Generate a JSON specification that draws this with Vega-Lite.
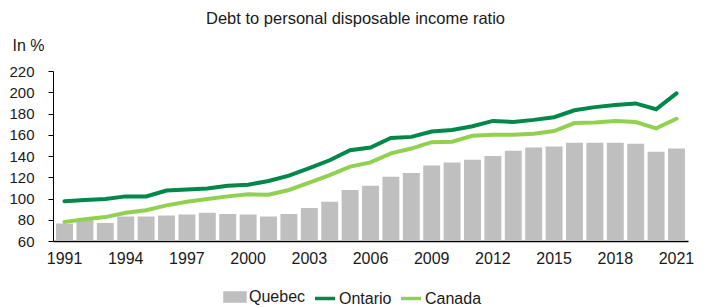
{
  "$schema": "https://vega.github.io/schema/vega-lite/v6.json",
  "width": 635,
  "height": 170,
  "autosize": {"type": "none"},
  "padding": {"left": 53, "top": 71, "right": 21, "bottom": 66},
  "background": "white",
  "config": {
    "font": "Liberation Sans",
    "view": {"stroke": null}
  },
  "title": {
    "text": "Debt to personal disposable income ratio",
    "fontSize": 16.5,
    "fontWeight": "normal",
    "color": "#1a1a1a",
    "anchor": "middle",
    "frame": "group",
    "dx": -15,
    "offset": 10
  },
  "data": {
    "values": [
      {"year": "1991", "series": "Quebec", "value": 76.5},
      {"year": "1992", "series": "Quebec", "value": 80},
      {"year": "1993", "series": "Quebec", "value": 77},
      {"year": "1994", "series": "Quebec", "value": 83},
      {"year": "1995", "series": "Quebec", "value": 83},
      {"year": "1996", "series": "Quebec", "value": 84},
      {"year": "1997", "series": "Quebec", "value": 85},
      {"year": "1998", "series": "Quebec", "value": 86.5},
      {"year": "1999", "series": "Quebec", "value": 85.5},
      {"year": "2000", "series": "Quebec", "value": 85},
      {"year": "2001", "series": "Quebec", "value": 83},
      {"year": "2002", "series": "Quebec", "value": 85.5},
      {"year": "2003", "series": "Quebec", "value": 91},
      {"year": "2004", "series": "Quebec", "value": 97},
      {"year": "2005", "series": "Quebec", "value": 108},
      {"year": "2006", "series": "Quebec", "value": 112},
      {"year": "2007", "series": "Quebec", "value": 120.5},
      {"year": "2008", "series": "Quebec", "value": 124},
      {"year": "2009", "series": "Quebec", "value": 131},
      {"year": "2010", "series": "Quebec", "value": 134},
      {"year": "2011", "series": "Quebec", "value": 136.5},
      {"year": "2012", "series": "Quebec", "value": 140},
      {"year": "2013", "series": "Quebec", "value": 145},
      {"year": "2014", "series": "Quebec", "value": 148},
      {"year": "2015", "series": "Quebec", "value": 149},
      {"year": "2016", "series": "Quebec", "value": 152.5},
      {"year": "2017", "series": "Quebec", "value": 152.5},
      {"year": "2018", "series": "Quebec", "value": 152.5},
      {"year": "2019", "series": "Quebec", "value": 151.5},
      {"year": "2020", "series": "Quebec", "value": 144},
      {"year": "2021", "series": "Quebec", "value": 147},
      {"year": "1991", "series": "Ontario", "value": 97.5},
      {"year": "1992", "series": "Ontario", "value": 98.5},
      {"year": "1993", "series": "Ontario", "value": 99.5},
      {"year": "1994", "series": "Ontario", "value": 102},
      {"year": "1995", "series": "Ontario", "value": 102},
      {"year": "1996", "series": "Ontario", "value": 107.5},
      {"year": "1997", "series": "Ontario", "value": 108.5},
      {"year": "1998", "series": "Ontario", "value": 109.5},
      {"year": "1999", "series": "Ontario", "value": 112},
      {"year": "2000", "series": "Ontario", "value": 113},
      {"year": "2001", "series": "Ontario", "value": 116.5},
      {"year": "2002", "series": "Ontario", "value": 121.5},
      {"year": "2003", "series": "Ontario", "value": 128.5},
      {"year": "2004", "series": "Ontario", "value": 136},
      {"year": "2005", "series": "Ontario", "value": 145.5},
      {"year": "2006", "series": "Ontario", "value": 148},
      {"year": "2007", "series": "Ontario", "value": 157},
      {"year": "2008", "series": "Ontario", "value": 158},
      {"year": "2009", "series": "Ontario", "value": 163},
      {"year": "2010", "series": "Ontario", "value": 164.5},
      {"year": "2011", "series": "Ontario", "value": 168},
      {"year": "2012", "series": "Ontario", "value": 173},
      {"year": "2013", "series": "Ontario", "value": 172},
      {"year": "2014", "series": "Ontario", "value": 174},
      {"year": "2015", "series": "Ontario", "value": 176.5},
      {"year": "2016", "series": "Ontario", "value": 183},
      {"year": "2017", "series": "Ontario", "value": 186},
      {"year": "2018", "series": "Ontario", "value": 188},
      {"year": "2019", "series": "Ontario", "value": 189.5},
      {"year": "2020", "series": "Ontario", "value": 184},
      {"year": "2021", "series": "Ontario", "value": 199},
      {"year": "1991", "series": "Canada", "value": 78},
      {"year": "1992", "series": "Canada", "value": 80.5},
      {"year": "1993", "series": "Canada", "value": 82.5},
      {"year": "1994", "series": "Canada", "value": 86.5},
      {"year": "1995", "series": "Canada", "value": 89},
      {"year": "1996", "series": "Canada", "value": 93.5},
      {"year": "1997", "series": "Canada", "value": 97},
      {"year": "1998", "series": "Canada", "value": 99.5},
      {"year": "1999", "series": "Canada", "value": 102},
      {"year": "2000", "series": "Canada", "value": 104},
      {"year": "2001", "series": "Canada", "value": 103.5},
      {"year": "2002", "series": "Canada", "value": 108},
      {"year": "2003", "series": "Canada", "value": 115},
      {"year": "2004", "series": "Canada", "value": 122},
      {"year": "2005", "series": "Canada", "value": 130},
      {"year": "2006", "series": "Canada", "value": 134},
      {"year": "2007", "series": "Canada", "value": 142.5},
      {"year": "2008", "series": "Canada", "value": 147},
      {"year": "2009", "series": "Canada", "value": 153},
      {"year": "2010", "series": "Canada", "value": 153.5},
      {"year": "2011", "series": "Canada", "value": 159},
      {"year": "2012", "series": "Canada", "value": 160},
      {"year": "2013", "series": "Canada", "value": 160},
      {"year": "2014", "series": "Canada", "value": 161},
      {"year": "2015", "series": "Canada", "value": 163.5},
      {"year": "2016", "series": "Canada", "value": 171},
      {"year": "2017", "series": "Canada", "value": 171.5},
      {"year": "2018", "series": "Canada", "value": 173},
      {"year": "2019", "series": "Canada", "value": 172},
      {"year": "2020", "series": "Canada", "value": 166},
      {"year": "2021", "series": "Canada", "value": 175}
    ]
  },
  "encoding": {
    "x": {
      "field": "year",
      "type": "ordinal",
      "scale": {"paddingInner": 0.17, "paddingOuter": 0.15},
      "axis": {
        "title": null,
        "labelAngle": 0,
        "labelFontSize": 16,
        "labelColor": "#1a1a1a",
        "labelPadding": 9,
        "ticks": false,
        "tickSize": 0,
        "domainColor": "#000000",
        "domainWidth": 1.5,
        "labelExpr": "(toNumber(datum.value) - 1991) % 3 === 0 ? datum.value : ''"
      }
    },
    "y": {
      "field": "value",
      "type": "quantitative",
      "scale": {"domain": [60, 220], "nice": false, "zero": false},
      "axis": {
        "title": "In %",
        "titleAngle": 0,
        "titleAlign": "left",
        "titleBaseline": "alphabetic",
        "titleX": -41,
        "titleY": -21,
        "titleFontSize": 16,
        "titleFontWeight": "normal",
        "titleColor": "#1a1a1a",
        "values": [60, 80, 100, 120, 140, 160, 180, 200, 220],
        "labelFontSize": 15,
        "labelColor": "#1a1a1a",
        "labelPadding": 14,
        "tickSize": 5,
        "tickColor": "#000000",
        "domainColor": "#000000",
        "grid": false
      }
    },
    "color": {
      "field": "series",
      "type": "nominal",
      "scale": {
        "domain": ["Quebec", "Ontario", "Canada"],
        "range": ["#bfbfbf", "#00884b", "#92d050"]
      },
      "legend": {
        "title": null,
        "orient": "none",
        "direction": "horizontal",
        "legendX": 170,
        "legendY": 214,
        "labelFontSize": 16,
        "labelColor": "#1a1a1a",
        "labelOffset": 2,
        "columnPadding": 2,
        "symbolSize": 400,
        "padding": 0,
        "encode": {
          "symbols": {
            "update": {
              "shape": {"signal": "datum.label === 'Quebec' ? 'M-1,-0.4H1V0.4H-1Z' : 'stroke'"},
              "fill": {"signal": "datum.label === 'Quebec' ? '#bfbfbf' : 'transparent'"},
              "stroke": {"signal": "datum.label === 'Quebec' ? 'transparent' : (datum.label === 'Ontario' ? '#00884b' : '#92d050')"},
              "strokeWidth": {"value": 3.5},
              "opacity": {"value": 1},
              "size": {"value": 400}
            }
          }
        }
      }
    }
  },
  "layer": [
    {
      "transform": [{"filter": "datum.series === 'Quebec'"}],
      "mark": {"type": "bar", "opacity": 1, "clip": true}
    },
    {
      "transform": [{"filter": "datum.series !== 'Quebec'"}],
      "mark": {"type": "line", "strokeWidth": 4, "strokeCap": "round"}
    }
  ]
}
